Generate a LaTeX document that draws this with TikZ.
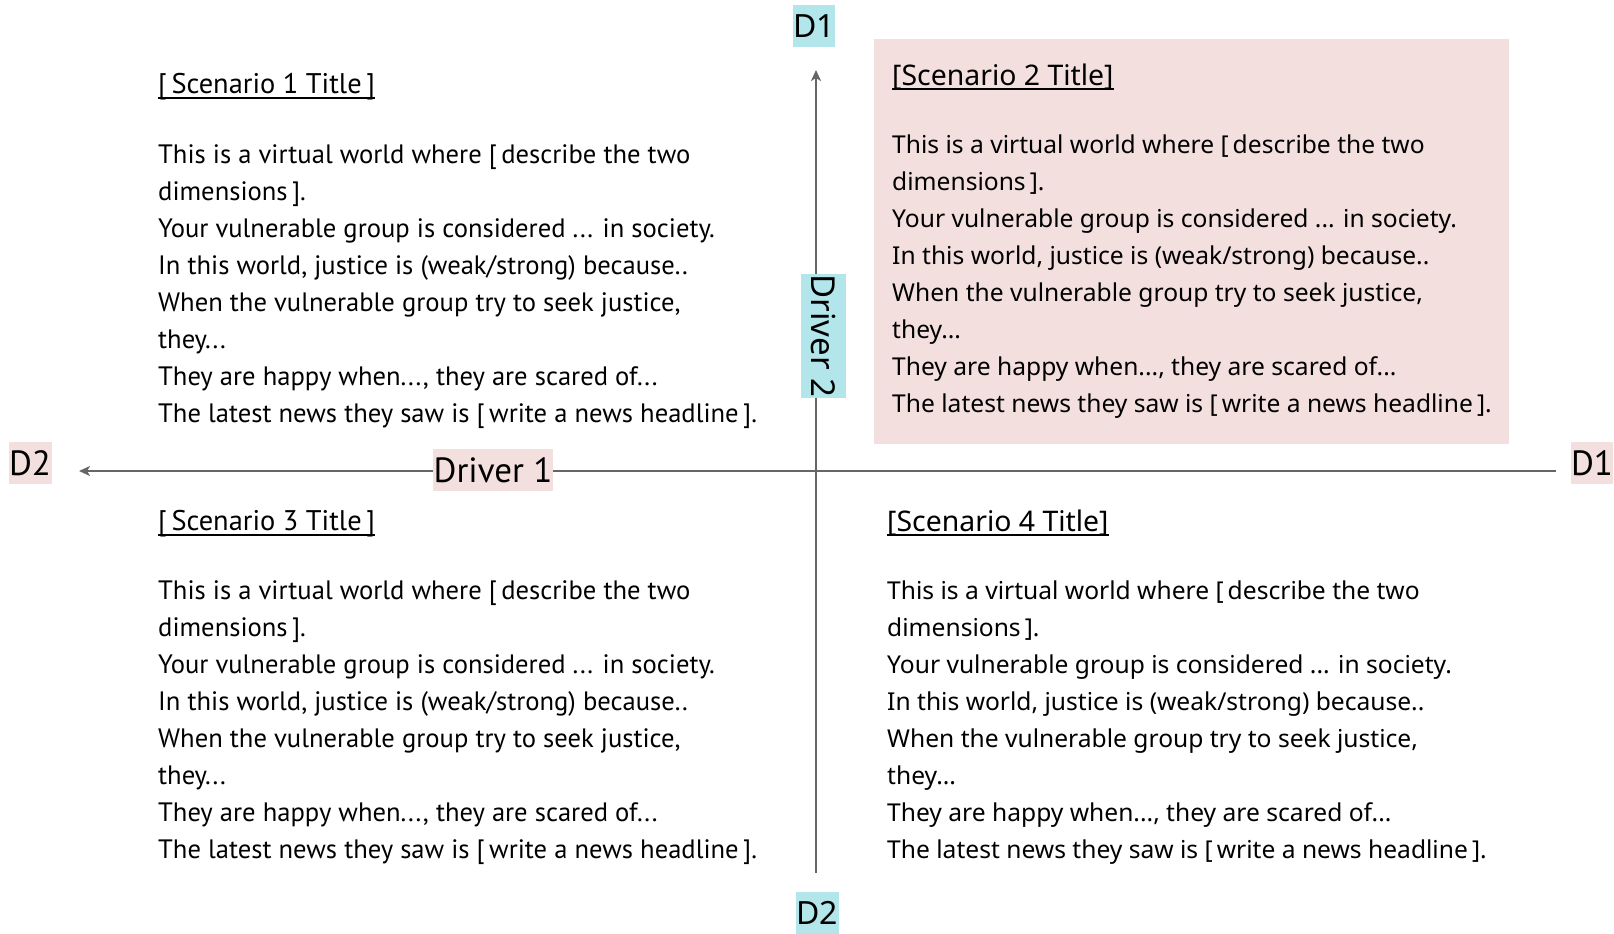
\documentclass[tikz,border=0pt]{standalone}
\usepackage{fontspec}
\setmainfont{PT Sans}
\newfontfamily\rightfont{Noto Sans}
\usetikzlibrary{arrows.meta}
\definecolor{axisgray}{HTML}{666666}
\definecolor{tagpink}{HTML}{F4DFDF}
\definecolor{tagcyan}{HTML}{B3E6EB}
\tikzset{
  axis/.style={draw=axisgray, line width=1.8pt,
    -{Stealth[length=11pt,width=10pt,inset=3pt]}},
  pinktag/.style={fill=tagpink, inner sep=0pt, minimum width=#1, minimum height=42pt},
  cyantag/.style={fill=tagcyan, inner sep=0pt, minimum width=#1, minimum height=42pt},
  titletext/.style={anchor=base west, inner sep=0pt, font=\fontsize{28.4}{32}\selectfont},
  righttitle/.style={titletext, font=\rightfont\fontsize{28.4}{32}\selectfont},
  bodytext/.style={anchor=base west, inner sep=0pt, align=left,
    font=\fontsize{26.6}{37}\selectfont},
  rightbody/.style={bodytext, font=\rightfont\fontsize{24.6}{37}\selectfont},
  titlerule/.style={line width=2pt},
}
% the text shared by all four scenarios
\newcommand{\scenariobody}{%
This is a virtual world where [\,describe the two\\
dimensions\,].\\
Your vulnerable group is considered ... in society.\\
In this world, justice is (weak/strong) because..\\
When the vulnerable group try to seek justice,\\
they...\\
They are happy when..., they are scared of...\\
The latest news they saw is [\,write a news headline\,].}
\begin{document}
\begin{tikzpicture}[x=1pt,y=-1pt]
  \path[use as bounding box] (0,0) rectangle (1614,934);
  % shaded background of the second scenario
  \fill[tagpink] (874,39) rectangle (1509,444);

  % axis end labels
  \node[pinktag=43pt, font=\fontsize{35}{35}\selectfont] (d2left) at (30,463) {D2};
  \node[pinktag=40pt, font=\fontsize{35}{35}\selectfont] (d1right) at (1592,463) {D1};
  \node[cyantag=36pt, font=\rightfont\fontsize{32}{32}\selectfont] (d1top) at (814,26) {D1};
  \node[cyantag=43pt, font=\rightfont\fontsize{32}{32}\selectfont] (d2bottom) at (817,913) {D2};

  % axis end points
  \coordinate (hleft) at (79,471);
  \coordinate (hright) at (1556,471);
  \coordinate (vtop) at (816,70);
  \coordinate (vbottom) at (816,873);

  \draw[axis] (hright) -- (hleft);
  \draw[axis] (vbottom) -- (vtop);

  % driver labels
  \node[pinktag=120pt, font=\fontsize{35}{35}\selectfont] (driver1) at (493,470) {Driver 1};
  \node[fill=tagcyan, inner sep=0pt, minimum width=45pt, minimum height=124pt] (driver2) at (823,336) {};
  \node[rotate=-90, inner sep=0pt, font=\rightfont\fontsize{33}{33}\selectfont] (driver2text) at (driver2.center) {Driver 2};

  % scenario texts (body nodes are placed by the baseline of their last line)
  \node[titletext] (s1title) at (158,93) {[\,Scenario 1 Title\,]};
  \node[bodytext] (s1body) at (158,422.6) {\scenariobody};

  \node[righttitle] (s2title) at (892,85) {[Scenario 2 Title]};
  \node[rightbody] (s2body) at (892,412.6) {\scenariobody};

  \node[titletext] (s3title) at (158,530) {[\,Scenario 3 Title\,]};
  \node[bodytext] (s3body) at (158,858.6) {\scenariobody};

  \node[righttitle] (s4title) at (887,531) {[Scenario 4 Title]};
  \node[rightbody] (s4body) at (887,858.5) {\scenariobody};

  % title underlines
  \foreach \t/\d in {s1title/5, s2title/4, s3title/5, s4title/4}
    \draw[titlerule] ([yshift=-\d pt]\t.base west) -- ([yshift=-\d pt]\t.base east);
\end{tikzpicture}
\end{document}
